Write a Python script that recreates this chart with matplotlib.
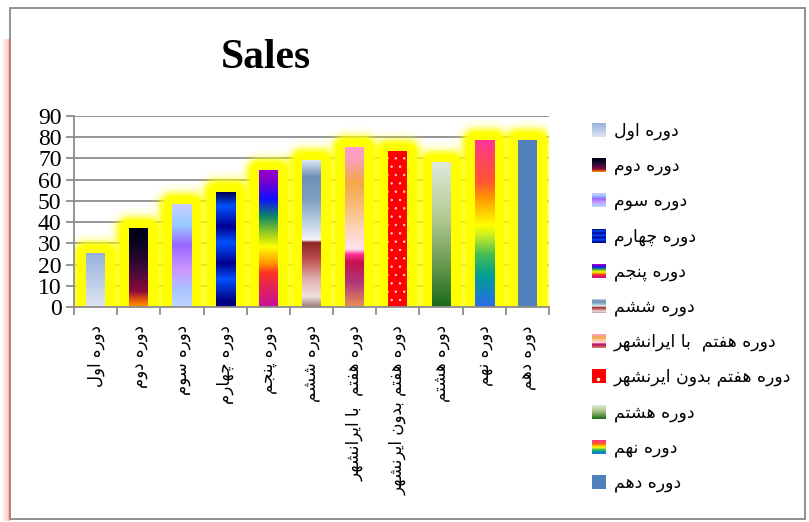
import numpy as np
import matplotlib
matplotlib.use('Agg')
import matplotlib.pyplot as plt
from matplotlib.colors import LinearSegmentedColormap
from matplotlib.patches import Rectangle

# داده ها
categories = ['دوره اول', 'دوره دوم', 'دوره سوم', 'دوره چهارم', 'دوره پنجم',
              'دوره ششم', 'دوره هفتم  با ایرانشهر', 'دوره هفتم بدون ایرنشهر',
              'دوره هشتم', 'دوره نهم', 'دوره دهم']
sales = [25, 37, 48, 54, 64, 68.7, 75, 73, 67.7, 78, 78]
y_ticks = [0, 10, 20, 30, 40, 50, 60, 70, 80, 90]

# رنگ های گرادیان هر ستون (از پایین به بالا)
gradients = [
    [(0, '#dfe6f2'), (1, '#95b1dc')],
    [(0, '#ff9900'), (0.1, '#e05010'), (0.2, '#8a0a3a'), (0.5, '#3a0a3a'), (0.8, '#0a0420'), (1, '#000018')],
    [(0, '#c4d4ff'), (0.15, '#a8c8ff'), (0.35, '#cc99ff'), (0.6, '#9966ff'), (0.8, '#99ccff'), (1, '#ccccff')],
    [(0, '#000080'), (0.05, '#000080'), (0.24, '#0050ff'), (0.38, '#000090'), (0.56, '#0050ff'),
     (0.7, '#000090'), (0.88, '#0050ff'), (1, '#000050')],
    [(0, '#c8109c'), (0.13, '#e02060'), (0.25, '#ff3322'), (0.32, '#ff9900'), (0.44, '#ffff00'),
     (0.54, '#99cc22'), (0.66, '#118866'), (0.79, '#1010ff'), (0.93, '#8000cc'), (1, '#9900cc')],
    [(0, '#9a7a7a'), (0.07, '#f0e0e0'), (0.19, '#e0b0b0'), (0.32, '#c05050'), (0.44, '#8b2525'),
     (0.455, '#f4f4f8'), (0.55, '#c8d8e8'), (0.73, '#7fa0c0'), (0.89, '#7090b8'), (1, '#dde8f4')],
    [(0, '#e89058'), (0.15, '#b03878'), (0.28, '#c8104f'), (0.33, '#ff3399'), (0.36, '#ffe0f0'),
     (0.46, '#fcd8c8'), (0.61, '#f8c080'), (0.78, '#f4a848'), (0.92, '#f8a0b8'), (1, '#ff99cc')],
    [(0, '#ff0000'), (1, '#ff0000')],
    [(0, '#1a6a1a'), (0.3, '#6a9a50'), (0.6, '#b0c890'), (1, '#e0eadc')],
    [(0, '#2a6aee'), (0.19, '#00a090'), (0.31, '#44bb55'), (0.43, '#ccee22'), (0.49, '#ffff00'),
     (0.65, '#ff9900'), (0.75, '#ff5533'), (0.9, '#ff4466'), (1, '#ff3399')],
    [(0, '#4f81bd'), (1, '#4f81bd')],
]

# شکل دهی حروف فارسی
FORMS = {
    'ا': ('\uFE8D', '\uFE8E'), 'د': ('\uFEA9', '\uFEAA'), 'ر': ('\uFEAD', '\uFEAE'),
    'و': ('\uFEED', '\uFEEE'),
    'ب': ('\uFE8F', '\uFE90', '\uFE91', '\uFE92'), 'ت': ('\uFE95', '\uFE96', '\uFE97', '\uFE98'),
    'ج': ('\uFE9D', '\uFE9E', '\uFE9F', '\uFEA0'), 'س': ('\uFEB1', '\uFEB2', '\uFEB3', '\uFEB4'),
    'ش': ('\uFEB5', '\uFEB6', '\uFEB7', '\uFEB8'), 'ف': ('\uFED1', '\uFED2', '\uFED3', '\uFED4'),
    'ل': ('\uFEDD', '\uFEDE', '\uFEDF', '\uFEE0'), 'م': ('\uFEE1', '\uFEE2', '\uFEE3', '\uFEE4'),
    'ن': ('\uFEE5', '\uFEE6', '\uFEE7', '\uFEE8'), 'ه': ('\uFEE9', '\uFEEA', '\uFEEB', '\uFEEC'),
    'پ': ('\uFB56', '\uFB57', '\uFB58', '\uFB59'), 'چ': ('\uFB7A', '\uFB7B', '\uFB7C', '\uFB7D'),
    'ی': ('\uFBFC', '\uFBFD', '\uFBFE', '\uFBFF'),
}


def shape(s):
    out = []
    for i, c in enumerate(s):
        if c not in FORMS:
            out.append(c)
            continue
        prev = s[i - 1] if i > 0 else ''
        nxt = s[i + 1] if i + 1 < len(s) else ''
        f = FORMS[c]
        jp = prev in FORMS and len(FORMS[prev]) == 4
        jn = len(f) == 4 and nxt in FORMS
        if jp and jn:
            out.append(f[3])
        elif jp:
            out.append(f[1])
        elif jn:
            out.append(f[2])
        else:
            out.append(f[0])
    return ''.join(reversed(out))


W, H = 809, 522
fig = plt.figure(figsize=(W / 100, H / 100), dpi=100)
fig.patch.set_facecolor('white')
plt.rcParams['hatch.linewidth'] = 0.5

ax = fig.add_axes([74 / W, 1 - 307.3 / H, (549 - 74) / W, (307.3 - 115.7) / H])
x = np.arange(len(categories))
bw = 0.44

# هاله زرد
for lw, a in [(30, 0.08), (25, 0.15), (21, 0.3), (17, 0.55), (13.5, 1.0)]:
    ax.bar(x, sales, bw, color='#ffff00', edgecolor='#ffff00', linewidth=lw,
           alpha=a, joinstyle='round', zorder=2)

# ستون ها با گرادیان
grad = np.linspace(0, 1, 256).reshape(-1, 1)
for i, (xi, v) in enumerate(zip(x, sales)):
    cmap = LinearSegmentedColormap.from_list(f'g{i}', gradients[i])
    ax.imshow(grad, cmap=cmap, extent=[xi - bw / 2, xi + bw / 2, 0, v],
              origin='lower', aspect='auto', zorder=3, interpolation='bilinear')
ax.bar(x[7], sales[7], bw, color='none', edgecolor='#ffd8d8', linewidth=0,
       hatch='..', zorder=4)

ax.set_xlim(-0.5, len(categories) - 0.5)
ax.set_ylim(0, 90)
ax.set_yticks(y_ticks)
ax.set_yticklabels([str(t) for t in y_ticks], fontsize=17, family='Liberation Serif')
ax.yaxis.grid(True, color='#8c8c8c', linewidth=1.3, zorder=0)
ax.set_axisbelow(True)
ax.tick_params(axis='y', length=6, width=1.3, color='#8c8c8c', pad=3)

ax.set_xticks(x)
ax.set_xticklabels([shape(c) for c in categories], rotation=90, va='top', ha='center',
                   fontsize=12, family='DejaVu Sans')
ax.tick_params(axis='x', which='major', length=0, pad=13)
ax.set_xticks(np.arange(len(categories) + 1) - 0.5, minor=True)
ax.tick_params(axis='x', which='minor', length=6, width=1.3, color='#8c8c8c')

for s in ['top', 'right']:
    ax.spines[s].set_visible(False)
for s in ['left', 'bottom']:
    ax.spines[s].set_color('#8c8c8c')
    ax.spines[s].set_linewidth(1.3)
    ax.spines[s].set_zorder(5)

# عنوان
fig.text(266 / W, 1 - 58 / H, 'Sales', fontsize=30, fontweight='bold',
         family='Liberation Serif', ha='center', va='center')

# راهنما و قاب
lax = fig.add_axes([0, 0, 1, 1], zorder=-1)
lax.set_xlim(0, W)
lax.set_ylim(H, 0)
lax.axis('off')
lax.add_patch(Rectangle((10, 8), 795, 511, fill=False, edgecolor='#888888', linewidth=1.3))
for k, a in enumerate([0.35, 0.25, 0.15, 0.08]):
    lax.plot([9 - 2 * k, 9 - 2 * k], [40, 519], color='#ff6060', alpha=a, linewidth=2)

leg = fig.add_axes([0, 0, 1, 1])
leg.set_xlim(0, W)
leg.set_ylim(H, 0)
leg.axis('off')
for i, c in enumerate(categories):
    yc = 130 + i * 35.2
    cmap = LinearSegmentedColormap.from_list(f'l{i}', gradients[i])
    leg.imshow(grad, cmap=cmap, extent=[592, 606, yc + 7, yc - 7], origin='lower',
               aspect='auto', interpolation='bilinear')
    if i == 7:
        leg.plot([598], [yc + 3], 'o', color='white', markersize=1.5)
    leg.text(614, yc + 1, shape(c), fontsize=12.5, family='DejaVu Sans',
             ha='left', va='center')

fig.savefig('out.png', dpi=100)
